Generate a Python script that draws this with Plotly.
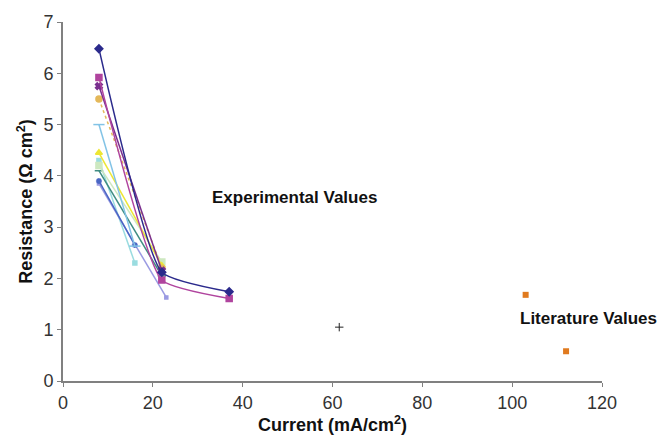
import plotly.graph_objects as go

# Experimental series (current mA/cm2, resistance ohm cm2)
s1_x = [8, 22, 37]; s1_y = [6.48, 2.12, 1.74]
s2_x = [8, 22, 37]; s2_y = [5.92, 1.97, 1.61]
s3_x = [8, 22]; s3_y = [5.75, 2.15]
s4_x = [8, 22]; s4_y = [5.50, 2.20]
s5_x = [8, 16]; s5_y = [5.00, 2.63]
s6_x = [8, 22]; s6_y = [4.45, 2.25]
s7_x = [8, 22]; s7_y = [4.20, 2.32]
s8_x = [8, 22]; s8_y = [4.10, 2.05]
s9_x = [8, 16]; s9_y = [3.90, 2.65]
s10_x = [8, 23]; s10_y = [3.85, 1.63]
s11_x = [8, 16]; s11_y = [4.30, 2.30]

# Literature values
lit_x = [103, 112]; lit_y = [1.68, 0.58]
other_x = [61.5]; other_y = [1.05]

x_ticks = [0, 20, 40, 60, 80, 100, 120]
y_ticks = [0, 1, 2, 3, 4, 5, 6, 7]

series = [
    (s1_x, s1_y, "#2B2A8C", "diamond", 6, "solid"),
    (s2_x, s2_y, "#B0449E", "square", 6, "solid"),
    (s3_x, s3_y, "#7A2F8E", "x", 6, "solid"),
    (s4_x, s4_y, "#E4B85A", "circle", 6, "dot"),
    (s5_x, s5_y, "#82C3E6", "line-ew-open", 8, "solid"),
    (s6_x, s6_y, "#EDE634", "triangle-up", 6, "solid"),
    (s7_x, s7_y, "#CDE8C0", "square", 6, "solid"),
    (s8_x, s8_y, "#3F8C82", "line-ew-open", 6, "solid"),
    (s9_x, s9_y, "#4A66C4", "asterisk-open", 5, "solid"),
    (s10_x, s10_y, "#9A9AE2", "square", 3, "solid"),
    (s11_x, s11_y, "#9ADCE0", "square", 4, "solid"),
]

fig = go.Figure()
for xs, ys, col, sym, sz, dash in reversed(series):
    fig.add_trace(go.Scatter(
        x=xs, y=ys, mode="lines+markers",
        line=dict(color=col, width=1.5, dash=dash, shape="spline", smoothing=0.45),
        marker=dict(symbol=sym, size=sz, color=col, line=dict(color=col, width=1.5)),
        showlegend=False))

fig.add_trace(go.Scatter(x=lit_x, y=lit_y, mode="markers",
                         marker=dict(symbol="square", size=6, color="#E07A1F"), showlegend=False))
fig.add_trace(go.Scatter(x=other_x, y=other_y, mode="markers",
                         marker=dict(symbol="cross-thin-open", size=6, color="#222222",
                                     line=dict(color="#222222", width=1)),
                         showlegend=False))

fig.add_annotation(x=51.5, y=3.57, text="<b>Experimental Values</b>", showarrow=False,
                   font=dict(family="Liberation Sans, Arial", size=17, color="#111111"))
fig.add_annotation(x=116.9, y=1.22, text="<b>Literature Values</b>", showarrow=False,
                   font=dict(family="Liberation Sans, Arial", size=17, color="#111111"))

axis_common = dict(showgrid=False, zeroline=False, showline=True, linecolor="#808080", linewidth=2,
                   ticks="outside", ticklen=4, tickcolor="#808080",
                   tickfont=dict(family="Liberation Sans, Arial", size=18, color="#333333"))

fig.update_layout(
    width=657, height=437,
    margin=dict(l=63, r=55, t=14, b=45),
    paper_bgcolor="white", plot_bgcolor="white",
    xaxis=dict(range=[0, 120], tickvals=x_ticks,
               title=dict(text="<b>Current (mA/cm<sup>2</sup>)</b>", standoff=0,
                          font=dict(family="Liberation Sans, Arial", size=18, color="#111111")),
               **axis_common),
    yaxis=dict(range=[0, 7], tickvals=y_ticks,
               title=dict(text="<b>Resistance (Ω cm<sup>2</sup>)</b>", standoff=6,
                          font=dict(family="Liberation Sans, Arial", size=18, color="#111111")),
               **axis_common),
)

fig.write_html("out.html")
